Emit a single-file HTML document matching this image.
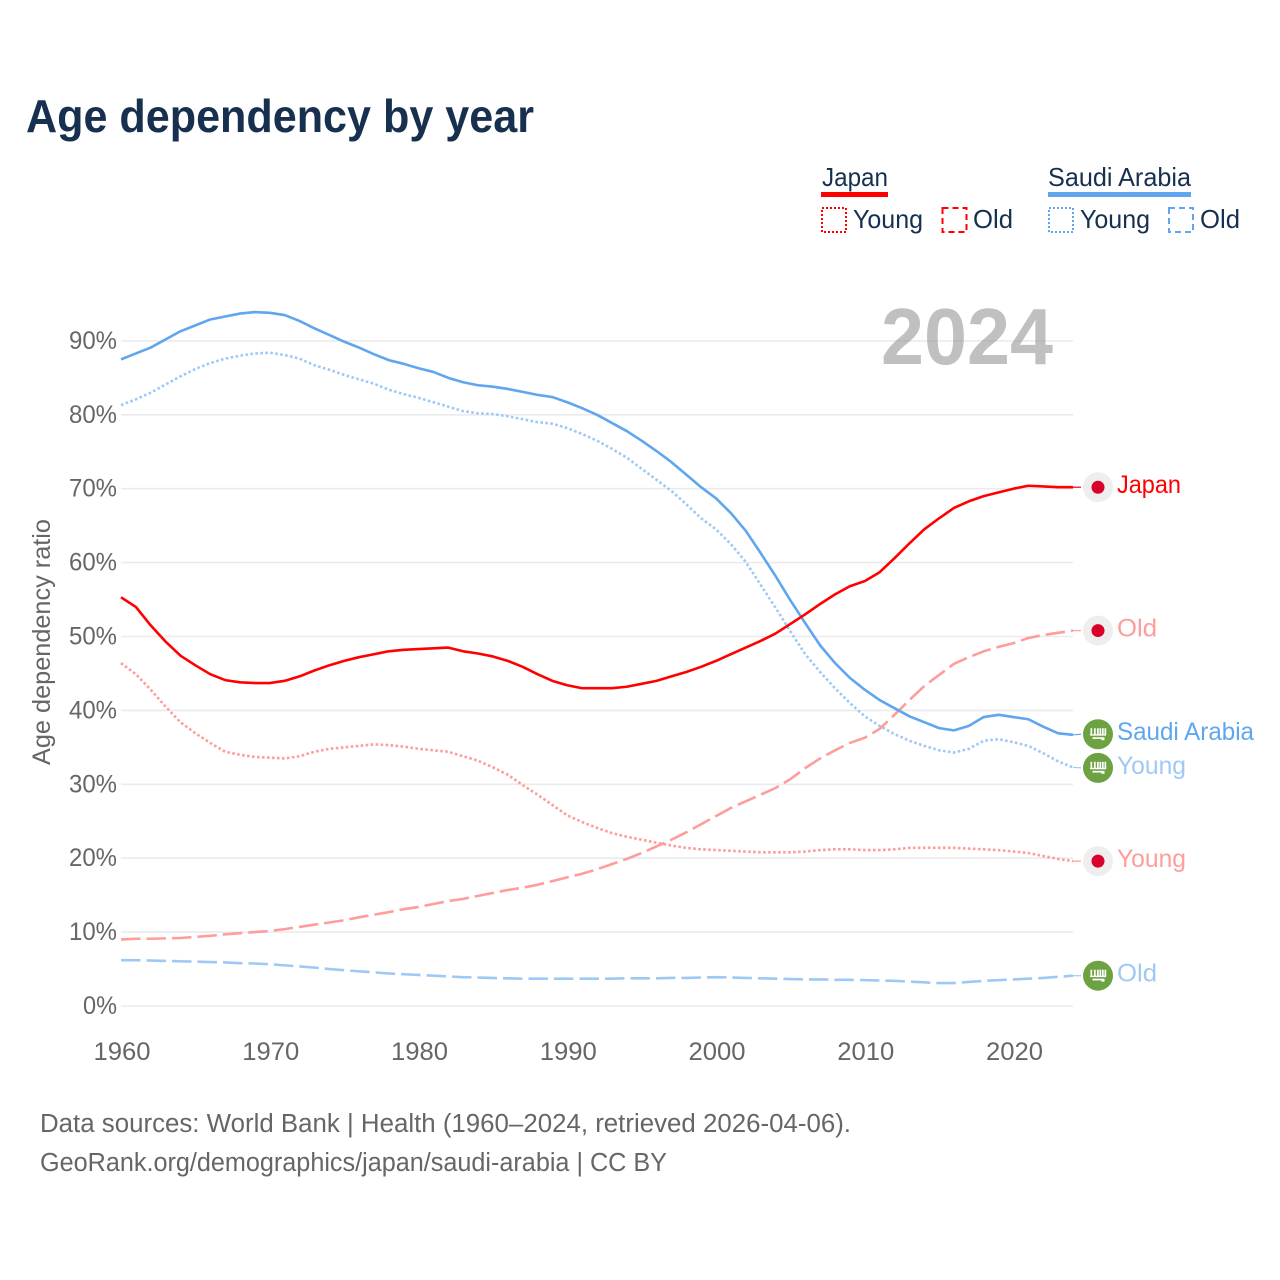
<!DOCTYPE html>
<html lang="en">
<head>
<meta charset="utf-8">
<title>Age dependency by year</title>
<style>
html,body{margin:0;padding:0;background:#fff;}
svg{display:block;font-family:"Liberation Sans",sans-serif;}
</style>
</head>
<body>
<svg id="chart" width="1280" height="1280" viewBox="0 0 1280 1280" xmlns="http://www.w3.org/2000/svg">
  <rect width="1280" height="1280" fill="#ffffff"/>
  <text x="26" y="132" font-size="46" font-weight="700" fill="#18304f" textLength="508" lengthAdjust="spacingAndGlyphs">Age dependency by year</text>

  <g>
    <g>
      <text x="822" y="186" font-size="26" fill="#18304f" textLength="66" lengthAdjust="spacingAndGlyphs">Japan</text>
      <rect x="821" y="192" width="67" height="5" fill="#ff0000"/>
      <rect x="822" y="208" width="24" height="24" fill="none" stroke="#ff0000" stroke-width="2" stroke-dasharray="2 2"/>
      <text x="853" y="228" font-size="26" fill="#18304f" textLength="70" lengthAdjust="spacingAndGlyphs">Young</text>
      <rect x="942.5" y="208" width="24" height="24" fill="none" stroke="#ff0000" stroke-width="2" stroke-dasharray="6 4"/>
      <text x="973" y="228" font-size="26" fill="#18304f" textLength="40" lengthAdjust="spacingAndGlyphs">Old</text>
    </g>
    <g>
      <text x="1048" y="186" font-size="26" fill="#18304f" textLength="143" lengthAdjust="spacingAndGlyphs">Saudi Arabia</text>
      <rect x="1048" y="192" width="143" height="5" fill="#5fa6ef"/>
      <rect x="1049" y="208" width="24" height="24" fill="none" stroke="#5fa6ef" stroke-width="2" stroke-dasharray="2 2"/>
      <text x="1080" y="228" font-size="26" fill="#18304f" textLength="70" lengthAdjust="spacingAndGlyphs">Young</text>
      <rect x="1169" y="208" width="24" height="24" fill="none" stroke="#5fa6ef" stroke-width="2" stroke-dasharray="6 4"/>
      <text x="1200" y="228" font-size="26" fill="#18304f" textLength="40" lengthAdjust="spacingAndGlyphs">Old</text>
    </g>
  </g>

  <text transform="translate(50,765) rotate(-90)" font-size="25" fill="#666666" textLength="246" lengthAdjust="spacingAndGlyphs">Age dependency ratio</text>

  <g id="grid"></g>
  <g id="yticks"></g>
  <g id="xticks"></g>

  <text x="881" y="364" font-size="80" font-weight="700" fill="#9a9a9a" fill-opacity="0.62" textLength="172" lengthAdjust="spacingAndGlyphs">2024</text>

  <g id="series"></g>
  <g id="endlabels"></g>

  <text x="40" y="1132" font-size="25.5" fill="#666666" textLength="811" lengthAdjust="spacingAndGlyphs">Data sources: World Bank | Health (1960–2024, retrieved 2026-04-06).</text>
  <text x="40" y="1171" font-size="25.5" fill="#666666" textLength="627" lengthAdjust="spacingAndGlyphs">GeoRank.org/demographics/japan/saudi-arabia | CC BY</text>
</svg>

<script>
const years = [1960,1961,1962,1963,1964,1965,1966,1967,1968,1969,1970,1971,1972,1973,1974,1975,1976,1977,1978,1979,1980,1981,1982,1983,1984,1985,1986,1987,1988,1989,1990,1991,1992,1993,1994,1995,1996,1997,1998,1999,2000,2001,2002,2003,2004,2005,2006,2007,2008,2009,2010,2011,2012,2013,2014,2015,2016,2017,2018,2019,2020,2021,2022,2023,2024];
const yTickValues = [0,10,20,30,40,50,60,70,80,90];
const xTickValues = [1960,1970,1980,1990,2000,2010,2020];

const japanTotal = [55.3,54.0,51.5,49.3,47.4,46.1,44.9,44.1,43.8,43.7,43.7,44.0,44.6,45.4,46.1,46.7,47.2,47.6,48.0,48.2,48.3,48.4,48.5,48.0,47.7,47.3,46.7,45.9,44.9,44.0,43.4,43.0,43.0,43.0,43.2,43.6,44.0,44.6,45.2,45.9,46.7,47.6,48.5,49.4,50.4,51.7,53.0,54.4,55.7,56.8,57.5,58.7,60.6,62.6,64.5,66.0,67.4,68.3,69.0,69.5,70.0,70.4,70.3,70.2,70.2];
const japanYoung = [46.4,44.9,42.8,40.5,38.4,36.9,35.6,34.4,34.0,33.7,33.6,33.5,33.8,34.4,34.8,35.0,35.2,35.4,35.3,35.1,34.8,34.6,34.4,33.8,33.2,32.3,31.3,29.9,28.6,27.2,25.8,24.9,24.1,23.4,22.9,22.5,22.1,21.7,21.4,21.2,21.1,21.0,20.9,20.8,20.8,20.8,20.9,21.1,21.2,21.2,21.1,21.1,21.2,21.4,21.4,21.4,21.4,21.3,21.2,21.1,20.9,20.7,20.3,19.9,19.6];
const japanOld = [9.0,9.1,9.1,9.15,9.2,9.35,9.5,9.7,9.85,10.0,10.15,10.4,10.7,11.0,11.3,11.6,12.0,12.35,12.7,13.1,13.4,13.8,14.2,14.5,14.9,15.3,15.7,16.0,16.4,16.9,17.4,17.9,18.5,19.2,19.9,20.7,21.6,22.5,23.5,24.6,25.7,26.8,27.7,28.6,29.5,30.7,32.2,33.5,34.6,35.6,36.3,37.5,39.4,41.4,43.3,44.8,46.3,47.2,48.0,48.6,49.1,49.8,50.2,50.5,50.8];
const saudiTotal = [87.5,88.3,89.1,90.2,91.3,92.1,92.9,93.3,93.7,93.9,93.8,93.5,92.7,91.7,90.8,89.9,89.1,88.2,87.4,86.9,86.3,85.8,85.0,84.4,84.0,83.8,83.5,83.1,82.7,82.4,81.7,80.9,80.0,78.9,77.8,76.5,75.1,73.6,71.9,70.2,68.7,66.7,64.3,61.3,58.2,54.9,51.8,48.8,46.4,44.4,42.8,41.4,40.3,39.2,38.4,37.6,37.3,37.9,39.1,39.4,39.1,38.8,37.8,36.9,36.7];
const saudiYoung = [81.3,82.1,83.0,84.1,85.2,86.2,87.0,87.6,88.0,88.3,88.4,88.1,87.6,86.7,86.1,85.4,84.8,84.2,83.4,82.8,82.3,81.7,81.1,80.5,80.2,80.1,79.8,79.4,79.0,78.8,78.2,77.4,76.5,75.4,74.2,72.7,71.2,69.7,67.9,66.0,64.5,62.5,60.1,57.0,53.9,50.7,47.6,45.2,43.0,41.0,39.2,37.9,36.8,35.9,35.2,34.6,34.3,34.8,35.9,36.1,35.7,35.2,34.2,33.1,32.3];
const saudiOld = [6.2,6.2,6.15,6.1,6.05,6.0,5.95,5.9,5.8,5.75,5.65,5.5,5.35,5.2,5.0,4.85,4.7,4.55,4.4,4.3,4.2,4.1,4.0,3.9,3.85,3.8,3.75,3.7,3.7,3.7,3.7,3.7,3.7,3.7,3.75,3.75,3.75,3.8,3.8,3.85,3.9,3.85,3.8,3.75,3.7,3.65,3.6,3.6,3.55,3.55,3.5,3.45,3.4,3.3,3.2,3.1,3.1,3.25,3.4,3.5,3.6,3.7,3.8,3.95,4.1];

const NS = 'http://www.w3.org/2000/svg';
const xLeft = 121, xRight = 1073, yZero = 1006, yPerUnit = 7.39;
const firstYear = years[0], lastYear = years[years.length - 1];
function xScale(year) { return xLeft + (year - firstYear) * (xRight - xLeft) / (lastYear - firstYear); }
function yScale(v) { return yZero - v * yPerUnit; }
function make(tag, attrs, parent) {
  const el = document.createElementNS(NS, tag);
  for (const k in attrs) el.setAttribute(k, attrs[k]);
  parent.appendChild(el);
  return el;
}

const gridG = document.getElementById('grid');
const yG = document.getElementById('yticks');
const xG = document.getElementById('xticks');
const seriesG = document.getElementById('series');
const labelG = document.getElementById('endlabels');

yTickValues.forEach(function (v) {
  const line = make('line', {x1: xLeft, x2: xRight, y1: yScale(v), y2: yScale(v), stroke: '#ebebeb', 'stroke-width': 1.6}, gridG);
  
  
  const label = v + '%';
  const t = make('text', {x: 117, y: yScale(v) + 8, 'text-anchor': 'end', 'font-size': 25, fill: '#666666', textLength: v === 0 ? 34 : 48, lengthAdjust: 'spacingAndGlyphs'}, yG);
  t.textContent = label;
  
  
});

xTickValues.forEach(function (year) {
  const t = make('text', {x: xScale(year) + 1, y: 1060, 'text-anchor': 'middle', 'font-size': 25, fill: '#666666', textLength: 57, lengthAdjust: 'spacingAndGlyphs'}, xG);
  t.textContent = String(year);
  
  
});

const japanColor = '#ff0000', japanLight = '#ff9c9c', saudiColor = '#5fa6ef', saudiLight = '#9fc9f5';
const dotted = '2.6 2.4', dashed = '19.5 6';

function drawLine(values, color, dash, name) {
  let d = '';
  values.forEach(function (v, i) {
    d += (i ? 'L' : 'M') + xScale(years[i]).toFixed(2) + ' ' + yScale(v).toFixed(2);
  });
  const attrs = {d: d, fill: 'none', stroke: color, 'stroke-width': 2.6, 'stroke-linejoin': 'round'};
  if (dash) attrs['stroke-dasharray'] = dash;
  const p = make('path', attrs, seriesG);
  
  
}
drawLine(saudiOld, saudiLight, dashed, 'line-saudi-old');
drawLine(saudiYoung, saudiLight, dotted, 'line-saudi-young');
drawLine(japanYoung, japanLight, dotted, 'line-japan-young');
drawLine(japanOld, japanLight, dashed, 'line-japan-old');
drawLine(saudiTotal, saudiColor, null, 'line-saudi-total');
drawLine(japanTotal, japanColor, null, 'line-japan-total');

function lastOf(arr) { return arr[arr.length - 1]; }

function drawEnd(value, text, color, country, textLen, labelY, name) {
  const yData = yScale(value);
  const conn = make('path', {d: 'M' + xRight + ' ' + yData + 'L1081 ' + labelY, stroke: color, 'stroke-width': 1.2, fill: 'none'}, labelG);
  
  
  const g = make('g', {transform: 'translate(1098,' + labelY + ')'}, labelG);
  
  
  if (country === 'jp') {
    make('circle', {r: 15, fill: '#eeeeee'}, g);
    make('circle', {r: 6.5, fill: '#d9002b'}, g);
  } else {
    make('circle', {r: 15, fill: '#6ca242'}, g);
    [-7.5, -4, -1, 1.5, 4, 6.5].forEach(function (dx) {
      make('rect', {x: dx, y: -6, width: 1.7, height: 7, fill: '#ffffff'}, g);
    });
    make('rect', {x: -8, y: 0, width: 16, height: 1.4, fill: '#ffffff'}, g);
    make('rect', {x: -5.5, y: 3, width: 12, height: 1.7, fill: '#ffffff'}, g);
    make('rect', {x: 3.5, y: 4.5, width: 3, height: 1.5, fill: '#ffffff'}, g);
  }
  const t = make('text', {x: 1117, y: labelY + 6, 'font-size': 25, fill: color, textLength: textLen, lengthAdjust: 'spacingAndGlyphs'}, labelG);
  t.textContent = text;
  
  
}

/* end labels follow the series, with a minimum spacing so that icons do not collide */
const minGap = 33.6;
const saudiY = yScale(lastOf(saudiTotal));
const saudiYoungY = yScale(lastOf(saudiYoung));
const overlap = Math.max(0, minGap - (saudiYoungY - saudiY)) / 2;

drawEnd(lastOf(japanTotal), 'Japan', japanColor, 'jp', 64, yScale(lastOf(japanTotal)), 'end-japan');
drawEnd(lastOf(japanOld), 'Old', japanLight, 'jp', 40, yScale(lastOf(japanOld)), 'end-japan-old');
drawEnd(lastOf(saudiTotal), 'Saudi Arabia', saudiColor, 'sa', 137, saudiY - overlap, 'end-saudi');
drawEnd(lastOf(saudiYoung), 'Young', saudiLight, 'sa', 69, saudiYoungY + overlap, 'end-saudi-young');
drawEnd(lastOf(japanYoung), 'Young', japanLight, 'jp', 69, yScale(lastOf(japanYoung)), 'end-japan-young');
drawEnd(lastOf(saudiOld), 'Old', saudiLight, 'sa', 40, yScale(lastOf(saudiOld)), 'end-saudi-old');
</script>
</body>
</html>
